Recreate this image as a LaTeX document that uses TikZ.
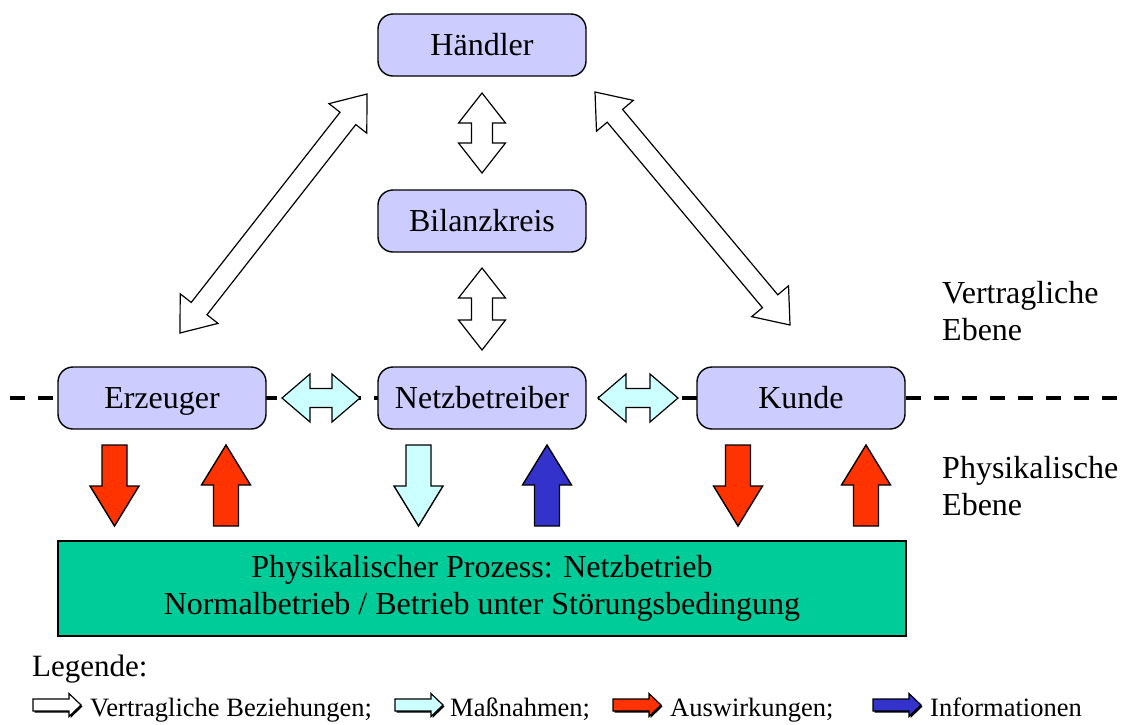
\documentclass[tikz,border=0pt]{standalone}
\usepackage{fontspec}
\setmainfont{Liberation Serif}
\usepackage{xcolor}
\usepackage{tikz}
\usetikzlibrary{calc,shadows}
\definecolor{boxlavender}{RGB}{204, 204, 255}
\definecolor{processgreen}{RGB}{0, 204, 153}
\definecolor{measurecyan}{RGB}{204, 255, 255}
\definecolor{impactred}{RGB}{255, 51, 0}
\definecolor{infoblue}{RGB}{51, 51, 204}

% block arrow with one head: [style]{from}{to}{shaft half}{head half}{head length}
\newcommand{\onearrow}[6][]{%
  \draw[#1] ($(#2)!#4!90:(#3)$) -- ($(#3)!#6!(#2)!#4!-90:(#2)$)
    -- ($(#3)!#6!(#2)!#5!-90:(#2)$) -- (#3)
    -- ($(#3)!#6!(#2)!#5!90:(#2)$) -- ($(#3)!#6!(#2)!#4!90:(#2)$)
    -- ($(#2)!#4!-90:(#3)$) -- cycle;}
% block arrow with two heads
\newcommand{\twoarrow}[6][]{%
  \draw[#1] (#2) -- ($(#2)!#6!(#3)!#5!90:(#3)$) -- ($(#2)!#6!(#3)!#4!90:(#3)$)
    -- ($(#3)!#6!(#2)!#4!-90:(#2)$) -- ($(#3)!#6!(#2)!#5!-90:(#2)$) -- (#3)
    -- ($(#3)!#6!(#2)!#5!90:(#2)$) -- ($(#3)!#6!(#2)!#4!90:(#2)$)
    -- ($(#2)!#6!(#3)!#4!-90:(#3)$) -- ($(#2)!#6!(#3)!#5!-90:(#3)$) -- cycle;}

\begin{document}
\begin{tikzpicture}[x=1pt, y=-1pt,
    font=\fontsize{32}{37}\selectfont,
    party/.style={draw, rectangle, rounded corners=15pt, minimum width=208pt, minimum height=62pt, text height=24pt, text depth=3pt, line width=1.4pt, fill=boxlavender},
    process/.style={draw, rectangle, minimum width=848pt, minimum height=95pt, line width=1.4pt, fill=processgreen, align=center},
    level/.style={anchor=west, align=left, inner sep=0pt},
    legtext/.style={anchor=base west, inner sep=0pt, font=\fontsize{26.5}{30}\selectfont},
    contract/.style={draw, line width=1.2pt, fill=white},
    measure/.style={draw, line width=1.2pt, fill=measurecyan},
    impact/.style={draw, line width=1.4pt, fill=impactred},
    info/.style={draw, line width=1.4pt, fill=infoblue},
    legicon/.style={draw, line width=1.2pt, drop shadow={shadow xshift=1.5pt, shadow yshift=-1.5pt, opacity=1, fill=black}}
]
\useasboundingbox (0,0) rectangle (1123,724);

% Level separator
\draw[line width=4pt, dash pattern=on 15pt off 13pt] (10,398) -- (1123,398);

% Parties
\node[party] (haendler) at (482,45) {Händler};
\node[party] (bilanz) at (482,221) {Bilanzkreis};
\node[party] (erzeuger) at (162,398) {Erzeuger};
\node[party] (netz) at (482,398) {Netzbetreiber};
\node[party] (kunde) at (801,398) {Kunde};

% Physical process
\node[process] (prozess) at (482,588.5) {Physikalischer Prozess: Netzbetrieb\\Normalbetrieb / Betrieb unter Störungsbedingung};

% Levels
\node[level] (vertr) at (942,311) {Vertragliche\\Ebene};
\node[level] (phys) at (942,486) {Physikalische\\Ebene};

% Arrow ends
\coordinate (hb1) at (482,93);   \coordinate (hb2) at (482,173);
\coordinate (bn1) at (482,268);  \coordinate (bn2) at (482,350);
\coordinate (en1) at (282,398);  \coordinate (en2) at (360,398);
\coordinate (nk1) at (598,398);  \coordinate (nk2) at (678,398);
\coordinate (he1) at (367,94);   \coordinate (he2) at (180,333);
\coordinate (hk1) at (595,92);   \coordinate (hk2) at (790,325);

% Contractual relations
\twoarrow[contract]{hb1}{hb2}{10.5pt}{23.5pt}{30pt}
\twoarrow[contract]{bn1}{bn2}{10.5pt}{23.5pt}{30pt}
\twoarrow[contract]{he1}{he2}{10pt}{24pt}{31pt}
\twoarrow[contract]{hk1}{hk2}{10pt}{24pt}{31pt}

% Measures
\twoarrow[measure]{en1}{en2}{9.5pt}{24pt}{28pt}
\twoarrow[measure]{nk1}{nk2}{9.5pt}{24pt}{28pt}

% Physical arrows
\coordinate (ed1) at (114.5,445); \coordinate (ed2) at (114.5,526);
\coordinate (eu1) at (226,526);   \coordinate (eu2) at (226,445);
\coordinate (nd1) at (418.5,445); \coordinate (nd2) at (418.5,526);
\coordinate (nu1) at (547,526);   \coordinate (nu2) at (547,445);
\coordinate (kd1) at (738,445);   \coordinate (kd2) at (738,526);
\coordinate (ku1) at (866,526);   \coordinate (ku2) at (866,445);
\onearrow[impact]{ed1}{ed2}{12.5pt}{24.5pt}{40pt}
\onearrow[impact]{eu1}{eu2}{12.5pt}{24.5pt}{40pt}
\onearrow[measure, line width=1.4pt]{nd1}{nd2}{12.5pt}{24.5pt}{40pt}
\onearrow[info]{nu1}{nu2}{12.5pt}{24.5pt}{40pt}
\onearrow[impact]{kd1}{kd2}{12.5pt}{24.5pt}{40pt}
\onearrow[impact]{ku1}{ku2}{12.5pt}{24.5pt}{40pt}

% Legend
\node[anchor=base west, inner sep=0pt, font=\fontsize{31}{35}\selectfont] (legende) at (32,676) {Legende:};
\coordinate (la1) at (33,705);  \coordinate (la2) at (81,705);
\coordinate (lb1) at (395,705); \coordinate (lb2) at (443,705);
\coordinate (lc1) at (613,705); \coordinate (lc2) at (661,705);
\coordinate (ld1) at (873,705); \coordinate (ld2) at (921,705);
\onearrow[legicon, fill=white]{la1}{la2}{6pt}{11.5pt}{12pt}
\onearrow[legicon, fill=measurecyan]{lb1}{lb2}{6pt}{11.5pt}{12pt}
\onearrow[legicon, fill=impactred]{lc1}{lc2}{6pt}{11.5pt}{12pt}
\onearrow[legicon, fill=infoblue]{ld1}{ld2}{6pt}{11.5pt}{12pt}
\node[legtext] (leg1) at (90,716) {Vertragliche Beziehungen;};
\node[legtext] (leg2) at (450,716) {Maßnahmen;};
\node[legtext] (leg3) at (670,716) {Auswirkungen;};
\node[legtext] (leg4) at (930,716) {Informationen};

\end{tikzpicture}
\end{document}
